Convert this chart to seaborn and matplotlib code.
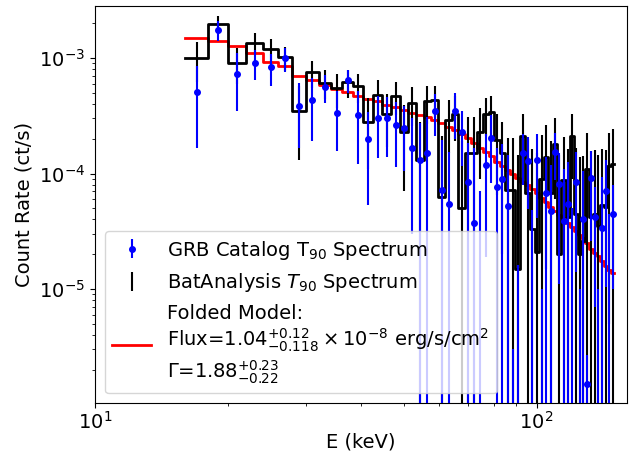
import matplotlib
matplotlib.use('Agg')
import matplotlib.pyplot as plt
import seaborn as sns
import numpy as np

# energy bin edges (keV)
edges = [16, 18, 20, 22, 24, 26, 28, 30, 32.1, 34.2, 36.3, 38.4, 40.5, 42.6, 44.7,
         46.9, 49.0, 51.2, 53.3, 55.5, 57.7, 59.9, 62.1, 64.3, 66.5, 68.8, 71.0, 73.3,
         75.6, 77.9, 80.2, 82.5, 84.8, 87.2, 89.5, 91.9, 94.3, 96.7, 99.1, 101.5, 104.0,
         106.4, 108.9, 111.4, 113.9, 116.4, 118.9, 121.4, 123.9, 126.4, 129.0, 131.6,
         134.2, 136.8, 139.4, 142.0, 144.6, 147.3, 150.0]

# BatAnalysis T90 spectrum (ct/s)
bat_rate = [1.0e-3, 1.96e-3, 9.0e-4, 1.36e-3, 1.19e-3, 1.01e-3, 3.5e-4, 7.5e-4, 6.1e-4,
            5.5e-4, 6.2e-4, 5.7e-4, 2.8e-4, 4.8e-4, 3.3e-4, 4.7e-4, 2.3e-4, 4.1e-4,
            1.3e-4, 4.2e-4, 4.3e-4, 6.3e-5, 2.9e-4, 3.3e-4, 5.0e-5, 1.5e-4, 1.5e-4,
            2.3e-4, 3.3e-4, 3.4e-4, 1.95e-4, 1.5e-4, 7.2e-5, 7.2e-5, 1.5e-5, 2.1e-4,
            6.8e-5, 3.3e-5, 2.1e-5, 9.0e-5, 1.4e-4, 6.8e-5, 1.8e-4, 2.0e-5, 8.8e-5,
            4.2e-5, 2.1e-4, 4.5e-5, 2.0e-5, 2.6e-5, 1.1e-4, 4.2e-5, 4.5e-5, 3.5e-5,
            5.3e-5, 5.1e-5, 1.15e-4, 1.2e-4]
bat_err = [3.8e-4, 3.6e-4, 3.1e-4, 2.8e-4, 2.6e-4, 2.4e-4, 2.2e-4, 2.0e-4, 1.7e-4,
           1.8e-4, 1.7e-4, 1.6e-4, 1.7e-4, 1.6e-4, 1.6e-4, 1.5e-4, 1.6e-4, 1.5e-4,
           1.5e-4, 1.5e-4, 1.4e-4, 1.5e-4, 1.4e-4, 1.4e-4, 1.4e-4, 1.6e-4, 1.6e-4,
           1.4e-4, 1.2e-4, 1.3e-4, 1.3e-4, 1.3e-4, 1.3e-4, 1.3e-4, 1.3e-4, 1.2e-4,
           1.3e-4, 1.3e-4, 1.3e-4, 1.25e-4, 1.25e-4, 1.25e-4, 1.2e-4, 1.25e-4, 1.2e-4,
           1.2e-4, 1.2e-4, 1.2e-4, 1.2e-4, 1.15e-4, 1.15e-4, 1.15e-4, 1.15e-4, 1.1e-4,
           1.1e-4, 1.1e-4, 1.1e-4, 1.25e-4]

# GRB catalog T90 spectrum (ct/s)
cat_rate = [5.1e-4, 1.75e-3, 7.3e-4, 9.1e-4, 8.3e-4, 9.9e-4, 3.85e-4, 4.3e-4, 5.6e-4,
            3.36e-4, 6.4e-4, 3.2e-4, 1.98e-4, 3.0e-4, 3.0e-4, 2.63e-4, 2.46e-4, 1.65e-4,
            1.31e-4, 1.51e-4, 3.5e-4, 7.2e-5, 5.5e-5, 3.5e-4, 2.3e-4, 8.5e-5, 3.75e-5,
            -2e-5, 1.19e-4, 2.02e-4, 7.6e-5, 9.0e-5, 5.2e-5, -1e-5, -5e-5, 1.5e-4,
            1.29e-4, -3e-5, 1.31e-4, -1e-5, 6.8e-5, 4.7e-5, 1.55e-4, 8.1e-5, 3.9e-5,
            5.5e-5, -1e-5, 8.4e-5, -1e-5, 4.0e-5, 1.5e-6, 9.1e-5, 4.2e-5, -1e-5,
            3.4e-5, 7.05e-5, -1e-5, 4.5e-5]
cat_err = [3.45e-4, 3.5e-4, 3.8e-4, 2.65e-4, 2.6e-4, 2.3e-4, 2.2e-4, 2.4e-4, 1.5e-4,
           1.8e-4, 1.4e-4, 2.0e-4, 1.45e-4, 1.65e-4, 1.6e-4, 1.5e-4, 1.4e-4, 1.35e-4,
           1.4e-4, 1.55e-4, 1.4e-4, 1.23e-4, 1.0e-4, 1.5e-4, 1.14e-4, 1.0e-4, 1.3e-4,
           9.0e-5, 1.0e-4, 1.2e-4, 8.9e-5, 9.0e-5, 9.3e-5, 1.3e-5, 6.6e-5, 7.0e-5,
           8.0e-5, 7.8e-5, 9.0e-5, 2.0e-5, 7.1e-5, 7.2e-5, 6.8e-5, 7.0e-5, 7.0e-5,
           7.0e-5, 6.0e-5, 7.0e-5, 2.0e-5, 6.5e-5, 1.2e-6, 6.5e-5, 3.5e-5, 2.0e-5,
           6.0e-5, 6.0e-5, 5.5e-5, 3.5e-5]

# folded power-law model (ct/s)
model_rate = [1.49e-3, 1.40e-3, 1.27e-3, 1.10e-3, 9.2e-4, 8.5e-4, 7.0e-4, 6.45e-4, 5.8e-4,
              5.4e-4, 5.1e-4, 4.69e-4, 4.42e-4, 4.25e-4, 3.92e-4, 3.77e-4, 3.55e-4, 3.34e-4,
              3.21e-4, 3.08e-4, 2.91e-4, 2.74e-4, 2.53e-4, 2.38e-4, 2.20e-4, 2.03e-4, 1.84e-4,
              1.66e-4, 1.54e-4, 1.42e-4, 1.27e-4, 1.17e-4, 1.08e-4, 9.9e-5, 9.1e-5, 8.44e-5,
              7.9e-5, 7.3e-5, 6.8e-5, 6.1e-5, 5.67e-5, 5.13e-5, 4.72e-5, 4.4e-5, 4.1e-5,
              3.73e-5, 3.41e-5, 3.17e-5, 2.95e-5, 2.75e-5, 2.50e-5, 2.22e-5, 2.05e-5, 1.93e-5,
              1.75e-5, 1.58e-5, 1.46e-5, 1.37e-5]

plt.rcParams['font.size'] = 14

energy = (np.array(edges[:-1]) + np.array(edges[1:])) / 2

fig, ax = plt.subplots(figsize=(6.33, 4.55), dpi=100)
fig.subplots_adjust(left=0.150, right=0.990, bottom=0.114, top=0.987)
ax.set_xscale('log')
ax.set_yscale('log')

# step curves
sns.lineplot(x=edges, y=model_rate + [model_rate[-1]], drawstyle='steps-post',
             color='red', lw=2, ax=ax, zorder=1)
model_line = ax.lines[-1]
sns.lineplot(x=edges, y=bat_rate + [bat_rate[-1]], drawstyle='steps-post',
             color='black', lw=2, ax=ax, zorder=2)

h_bat = ax.errorbar(energy, bat_rate, yerr=bat_err, fmt='none', ecolor='black',
                    elinewidth=1.5, zorder=3)
h_cat = ax.errorbar(energy, cat_rate, yerr=cat_err, fmt='o', color='blue', ms=4,
                    elinewidth=1.5, zorder=4)

ax.set_xlim(10, 160)
ax.set_ylim(1.03e-6, 2.82e-3)
ax.set_xlabel('E (keV)', labelpad=0)
ax.set_ylabel('Count Rate (ct/s)')
ax.tick_params(axis='x', pad=2)

labels = ['GRB Catalog T$_{90}$ Spectrum',
          'BatAnalysis $T_{90}$ Spectrum',
          'Folded Model:\nFlux=$1.04^{+0.12}_{-0.118} \\times 10^{-8}$ erg/s/cm$^2$\n'
          '$\\Gamma$=$1.88^{+0.23}_{-0.22}$']
ax.legend([h_cat, h_bat, model_line], labels, loc='lower left', fontsize=14)

fig.savefig('out.png', dpi=100)
